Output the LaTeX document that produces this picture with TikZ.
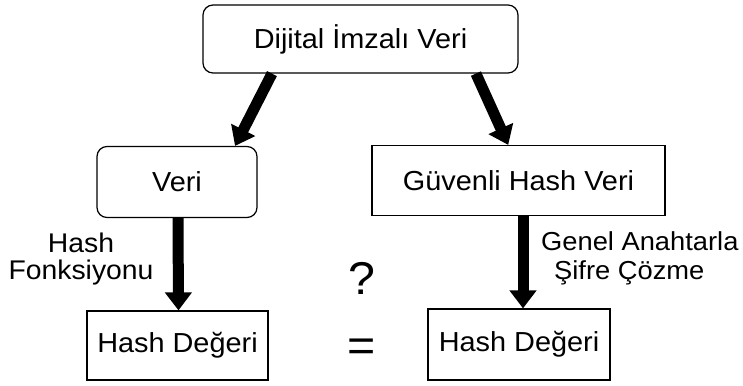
\documentclass[tikz,border=0pt]{standalone}
\usepackage{fontspec}
\setmainfont[FakeStretch=1.05]{Liberation Sans}
\usetikzlibrary{arrows.meta,calc}
\begin{document}
\begin{tikzpicture}[x=1pt,y=-1pt,
  box/.style={draw=black,line width=1.2pt,fill=white,inner sep=0pt,
    font=\fontsize{27.5}{29}\selectfont},
  rbox/.style={box,rounded corners=10pt},
  bigarrow/.style={line width=11pt,-{Triangle[width=26pt,length=18pt]}},
  lbl/.style={font=\fontsize{27}{27}\selectfont,inner sep=0pt},
  sym/.style={font=\fontsize{46}{48}\selectfont,inner sep=0pt}
]
\useasboundingbox (0,0) rectangle (743,385);
\node[rbox,minimum width=315pt,minimum height=68pt] (top) at (360.5,39) {Dijital İmzalı Veri};
\node[rbox,minimum width=160pt,minimum height=71pt] (veri) at (177,182) {Veri};
\node[box,minimum width=293pt,minimum height=70pt] (guv) at (518.5,180.5) {Güvenli Hash Veri};
\node[box,minimum width=181pt,minimum height=69pt] (hdl) at (177.5,345.5) {Hash Değeri};
\node[box,minimum width=182pt,minimum height=71pt] (hdr) at (519,344.5) {Hash Değeri};

\draw[bigarrow] ($(top.south west)!0.22!(top.south east)$) -- ($(veri.north west)!0.86!(veri.north east)$);
\draw[bigarrow] ($(top.south west)!0.865!(top.south east)$) -- ($(guv.north west)!0.465!(guv.north east)$);
\draw[bigarrow] ([xshift=1pt]veri.south) -- ([xshift=1pt]hdl.north);
\draw[bigarrow] ([xshift=4.5pt]guv.south) -- ([xshift=4.5pt]guv.south |- hdr.north);

\node[lbl,align=center] (l1) at (81,259) {Hash\\Fonksiyonu};
\node[lbl,align=left,anchor=west,font=\fontsize{26}{29}\selectfont] (l2) at (541,258) {Genel Anahtarla\\\hspace*{13pt}Şifre Çözme};
\node[sym] (q) at (362,278) {?};
\node[sym] (eq) at (362,350) {=};
\end{tikzpicture}
\end{document}
